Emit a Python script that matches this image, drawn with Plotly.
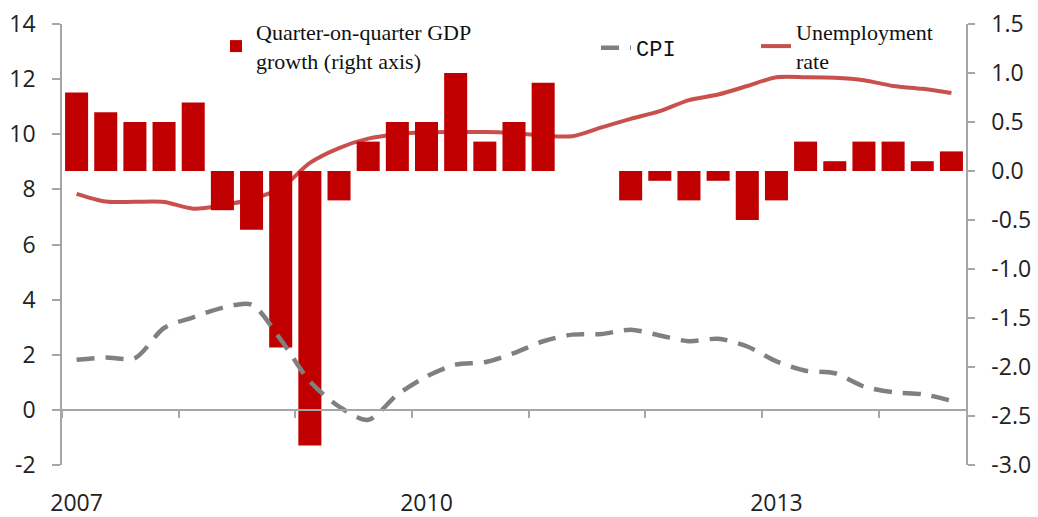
import plotly.graph_objects as go
import numpy as np

quarters = [f"{y}Q{q}" for y in range(2007, 2015) for q in range(1, 5)][:31]
gdp_qoq = [0.8, 0.6, 0.5, 0.5, 0.7, -0.4, -0.6, -1.8, -2.8, -0.3, 0.3, 0.5, 0.5, 1.0, 0.3, 0.5,
           0.9, 0.0, 0.0, -0.3, -0.1, -0.3, -0.1, -0.5, -0.3, 0.3, 0.1, 0.3, 0.3, 0.1, 0.2]
cpi = [1.82, 1.90, 1.88, 2.97, 3.36, 3.70, 3.82, 2.55, 1.03, 0.12, -0.36, 0.55, 1.21, 1.64, 1.73, 2.06,
       2.49, 2.73, 2.75, 2.91, 2.70, 2.49, 2.58, 2.30, 1.76, 1.42, 1.33, 0.85, 0.64, 0.57, 0.33]
unemployment = [7.84, 7.56, 7.55, 7.54, 7.30, 7.42, 7.65, 8.03, 8.96, 9.50, 9.84, 10.00, 10.07, 10.08, 10.08, 10.04,
                9.95, 9.93, 10.25, 10.56, 10.84, 11.24, 11.44, 11.75, 12.07, 12.07, 12.05, 11.96, 11.75, 11.65, 11.50]
year_labels = ["2007", "2010", "2013"]
left_ticks = [-2, 0, 2, 4, 6, 8, 10, 12, 14]
right_ticks = [-3.0, -2.5, -2.0, -1.5, -1.0, -0.5, 0.0, 0.5, 1.0, 1.5]

x = np.arange(len(quarters))
label_pos = [quarters.index(f"{y}Q1") for y in year_labels]
boundary_ticks = [i - 0.5 for i in range(0, len(quarters), 4)]

W, H = 1038, 517
ML, MR, MT, MB = 62, 72, 24, 52
fig = go.Figure()

fig.add_trace(go.Bar(
    x=x, y=gdp_qoq, yaxis="y2", name="Quarter-on-quarter GDP<br>growth (right axis)",
    marker=dict(color="#C00000", line=dict(width=0)), legend="legend",
))
fig.add_trace(go.Scatter(
    x=x, y=cpi, mode="lines", name="CPI", xaxis="x2", yaxis="y",
    line=dict(color="#808080", width=4.5, dash="18px,11px", shape="spline", smoothing=0.8),
    legend="legend2",
))
fig.add_trace(go.Scatter(
    x=x, y=unemployment, mode="lines", name="Unemployment<br>rate",
    line=dict(color="#C8504D", width=4, shape="spline", smoothing=0.8),
    legend="legend3",
))

axis_col = "#A6A6A6"
tick_font = dict(family="Open Sans", size=23, color="#222222")
xr = [-0.5, len(quarters) - 0.5]

def px_x(px):
    return (px - ML) / (W - ML - MR)

def px_y(py):
    return (H - MB - py) / (H - MB - MT)

fig.update_layout(
    width=W, height=H,
    margin=dict(l=ML, r=MR, t=MT, b=MB, autoexpand=False),
    paper_bgcolor="white", plot_bgcolor="white",
    bargap=0.21,
    showlegend=True,
    xaxis=dict(range=xr, tickvals=label_pos, ticktext=year_labels, showline=False,
               ticks="", showgrid=False, zeroline=False, tickfont=tick_font,
               ticklabelstandoff=22),
    xaxis2=dict(range=xr, overlaying="x", anchor="free", position=0.125,
                showline=True, linecolor=axis_col, linewidth=1.5,
                tickvals=boundary_ticks, ticks="outside", ticklen=7, tickwidth=1.5,
                tickcolor=axis_col, showticklabels=False, showgrid=False, zeroline=False),
    yaxis=dict(range=[-2, 14], tickvals=left_ticks, ticktext=[str(v) for v in left_ticks],
               showline=True, linecolor=axis_col,
               linewidth=1.5, ticks="outside", ticklen=8, tickwidth=1.5, tickcolor=axis_col,
               showgrid=False, zeroline=False, tickfont=tick_font, ticklabelstandoff=12),
    yaxis2=dict(range=[-3, 1.5], tickvals=right_ticks, ticktext=[f"{v:.1f}" for v in right_ticks],
                overlaying="y",
                side="right", showline=True, linecolor=axis_col, linewidth=1.5,
                ticks="outside", ticklen=7, tickwidth=1.5, tickcolor=axis_col,
                showgrid=False, zeroline=False, tickfont=tick_font, ticklabelstandoff=12),
    legend=dict(x=px_x(216), y=px_y(11), xanchor="left", yanchor="top",
                bgcolor="rgba(0,0,0,0)",
                font=dict(family="Liberation Serif", size=22, color="#111111")),
    legend2=dict(x=px_x(596), y=px_y(27), xanchor="left", yanchor="top",
                 bgcolor="rgba(0,0,0,0)",
                 font=dict(family="Liberation Mono", size=22, color="#111111")),
    legend3=dict(x=px_x(756), y=px_y(11), xanchor="left", yanchor="top",
                 bgcolor="rgba(0,0,0,0)",
                 font=dict(family="Liberation Serif", size=22, color="#111111")),
)

fig.write_html("out.html")
